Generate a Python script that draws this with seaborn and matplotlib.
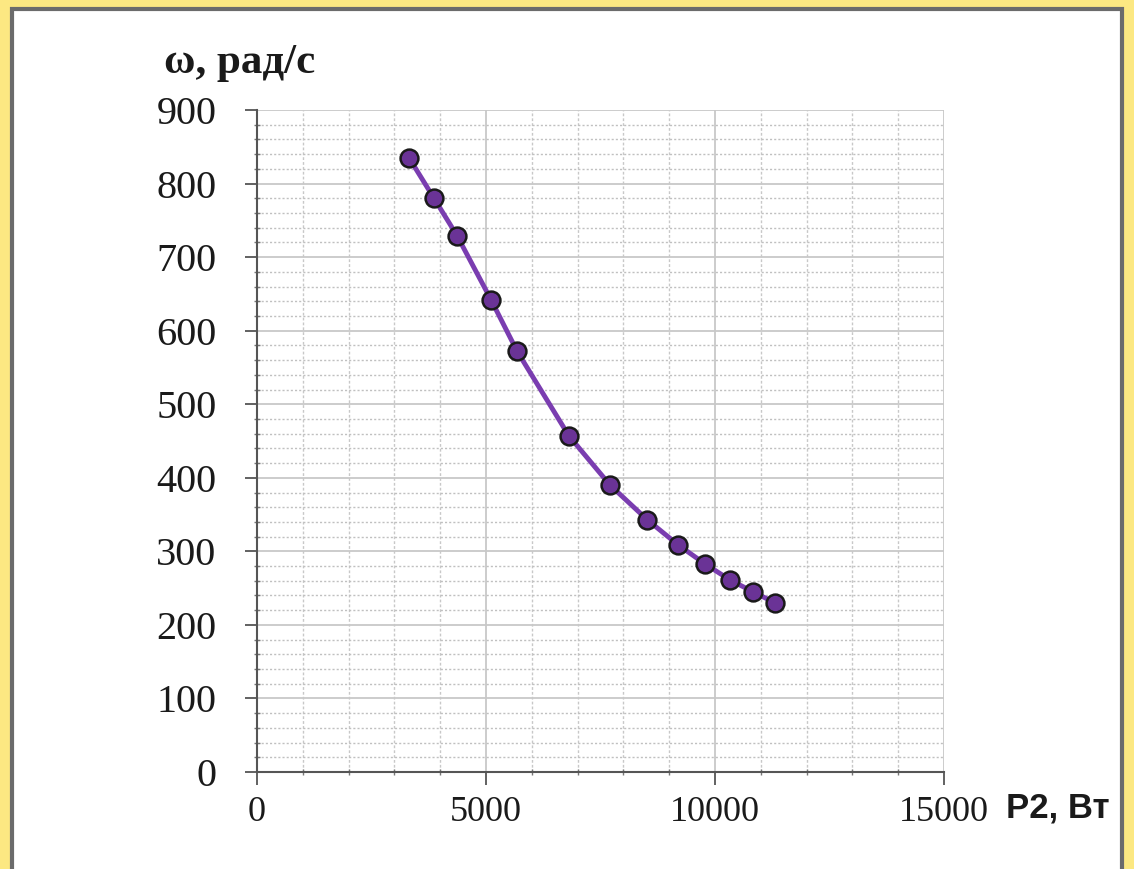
import numpy as np
import pandas as pd
import matplotlib.pyplot as plt
import seaborn as sns
from matplotlib.patches import Rectangle
from matplotlib.ticker import MultipleLocator

# данные с графика: P2 (Вт) и ω (рад/с)
p2 = [3320, 3865, 4370, 5110, 5680, 6810, 7710, 8520, 9190, 9780, 10330, 10830, 11310]
omega = [835, 780, 729, 642, 572, 457, 390, 343, 309, 283, 261, 245, 230]
x_ticks = [0, 5000, 10000, 15000]
y_ticks = [0, 100, 200, 300, 400, 500, 600, 700, 800, 900]

df = pd.DataFrame({"P2": p2, "omega": omega})

sns.set_theme(style="white")
plt.rcParams['font.family'] = ['Liberation Serif', 'DejaVu Serif']

fig = plt.figure(figsize=(11.34, 8.69), dpi=100)
fig.patch.set_facecolor('#FCE882')
# белая рамка
fig.patches.append(Rectangle((0.011, -0.05), 0.978, 1.04, transform=fig.transFigure,
                             facecolor='white', edgecolor='#6b6b6b', linewidth=3, zorder=-5))

ax = fig.add_axes([0.2266, 0.1116, 0.6059, 0.7618])
ax.set_facecolor('white')
ax.set_zorder(2)

sns.lineplot(data=df, x="P2", y="omega", ax=ax, color='#7A3DB0', linewidth=3.5, zorder=3)
sns.scatterplot(data=df, x="P2", y="omega", ax=ax, color='#6A3396', edgecolor='#1a1a1a',
                s=165, linewidth=1.8, zorder=4)

ax.set_xlim(0, 15000)
ax.set_ylim(0, 900)
ax.set_xticks(x_ticks)
ax.set_yticks(y_ticks)
ax.xaxis.set_minor_locator(MultipleLocator(1000))
ax.yaxis.set_minor_locator(MultipleLocator(20))

ax.grid(True, which='major', color='#c8c8c8', linewidth=1.3, linestyle='-')
ax.grid(True, which='minor', axis='y', color='#c0c0c0', linewidth=1.0, linestyle=(0, (1.5, 1.5)))
ax.grid(True, which='minor', axis='x', color='#c8c8c8', linewidth=1.0, linestyle=(0, (2, 1.5)))
ax.set_axisbelow(True)

for s in ['top', 'right']:
    ax.spines[s].set_visible(False)
for s in ['left', 'bottom']:
    ax.spines[s].set_color('#555555')
    ax.spines[s].set_linewidth(1.5)

ax.tick_params(axis='both', which='major', direction='out', length=9, width=1.3,
               color='#555555', labelcolor='#1a1a1a', left=True, bottom=True)
ax.tick_params(axis='x', which='major', labelsize=26, pad=8)
ax.tick_params(axis='y', which='major', labelsize=29, pad=20)
ax.tick_params(axis='y', which='minor', direction='inout', length=4, width=1, color='#777777', left=True)
ax.tick_params(axis='x', which='minor', direction='inout', length=4, width=1, color='#777777', bottom=True)

ax.set_xlabel("")
ax.set_ylabel("")
fig.text(0.211, 0.928, "ω, рад/с", fontsize=31, fontweight='bold', ha='center', va='center',
         color='#1a1a1a')
fig.text(0.933, 0.07, "P2, Вт", fontsize=25, fontweight='bold', ha='center', va='center',
         family=['Liberation Sans', 'DejaVu Sans'], color='#1a1a1a')

fig.savefig("out.png", dpi=100, facecolor=fig.get_facecolor())
